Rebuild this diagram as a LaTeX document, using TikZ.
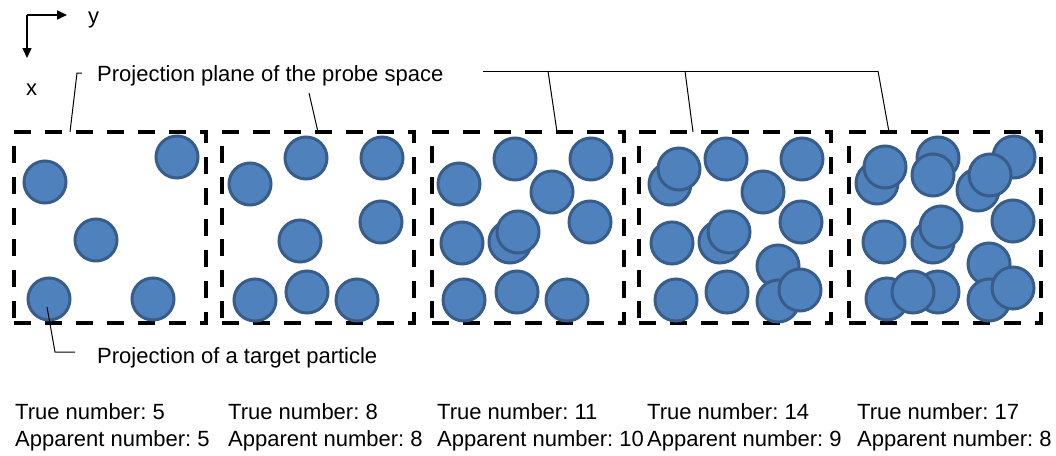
\documentclass[tikz,border=0pt]{standalone}
\usepackage{fontspec}
\setmainfont{Liberation Sans}
\usetikzlibrary{arrows.meta}
\definecolor{pfill}{HTML}{4F81BD}
\definecolor{pdraw}{HTML}{385D8A}
\frenchspacing
\begin{document}
\frenchspacing
\begin{tikzpicture}[x=1pt,y=-1pt,
  particle/.style={circle, minimum size=42pt, inner sep=0pt, outer sep=0pt, fill=pfill, draw=pdraw, line width=3pt},
  probebox/.style={draw=black, line width=4.5pt, dash pattern=on 17pt off 14pt, minimum width=192pt, minimum height=191pt, inner sep=0pt, outer sep=0pt},
  txt/.style={font=\fontsize{22pt}{26pt}\selectfont\frenchspacing, inner sep=0pt, anchor=base west},
  leader/.style={line width=1pt, draw=black},
  axis/.style={line width=1.5pt, -{Triangle[length=10pt,width=9pt]}}]
\useasboundingbox (0,0) rectangle (1056,455);

% axes
\coordinate (o) at (27,15);
\coordinate (ye) at (67,15);
\coordinate (xe) at (27,58);
\draw[axis] (o) -- (ye);
\draw[axis] (o) -- (xe);
\node[txt] (ylab) at (88,23) {y};
\node[txt] (xlab) at (26,95) {x};

% boxes
\node[probebox] (box1) at (110,227.5) {};
\node[probebox] (box2) at (318,227.5) {};
\node[probebox] (box3) at (528,227.5) {};
\node[probebox] (box4) at (735,227.5) {};
\node[probebox] (box5) at (945,227.5) {};

% box 1 particles
\node[particle] (b1a) at (177,157) {};
\node[particle] (b1b) at (45,182) {};
\node[particle] (b1c) at (96,240) {};
\node[particle] (b1d) at (49,299) {};
\node[particle] (b1e) at (153,299) {};

% box 2 particles
\node[particle] (b2a) at (250,184) {};
\node[particle] (b2b) at (306,158) {};
\node[particle] (b2c) at (382,158) {};
\node[particle] (b2d) at (381,222) {};
\node[particle] (b2e) at (300,241) {};
\node[particle] (b2f) at (255,300) {};
\node[particle] (b2g) at (307,292) {};
\node[particle] (b2h) at (357,300) {};

% box 3 particles
\node[particle] (b3a) at (459,184) {};
\node[particle] (b3b) at (515,159) {};
\node[particle] (b3c) at (591,159) {};
\node[particle] (b3d) at (552,192) {};
\node[particle] (b3e) at (590,222) {};
\node[particle] (b3f) at (462,243) {};
\node[particle] (b3g) at (510,242) {};
\node[particle] (b3h) at (518,232) {};
\node[particle] (b3i) at (464,300) {};
\node[particle] (b3j) at (517,292) {};
\node[particle] (b3k) at (567,300) {};

% box 4 particles
\node[particle] (b4a) at (670,184) {};
\node[particle] (b4b) at (679,169) {};
\node[particle] (b4c) at (726,159) {};
\node[particle] (b4d) at (802,159) {};
\node[particle] (b4e) at (763,192) {};
\node[particle] (b4f) at (801,222) {};
\node[particle] (b4g) at (672,243) {};
\node[particle] (b4h) at (720,242) {};
\node[particle] (b4i) at (729,232) {};
\node[particle] (b4j) at (778,266) {};
\node[particle] (b4k) at (676,300) {};
\node[particle] (b4l) at (727,292) {};
\node[particle] (b4m) at (778,301) {};
\node[particle] (b4n) at (800,290) {};

% box 5 particles
\node[particle] (b5a) at (877,183) {};
\node[particle] (b5b) at (885,167) {};
\node[particle] (b5c) at (938,158) {};
\node[particle] (b5d) at (933,175) {};
\node[particle] (b5e) at (1014,157) {};
\node[particle] (b5f) at (978,190) {};
\node[particle] (b5g) at (990,175) {};
\node[particle] (b5h) at (1013,221) {};
\node[particle] (b5i) at (884,242) {};
\node[particle] (b5j) at (933,242) {};
\node[particle] (b5k) at (941,227) {};
\node[particle] (b5l) at (989,264) {};
\node[particle] (b5m) at (887,299) {};
\node[particle] (b5n) at (938,292) {};
\node[particle] (b5o) at (913,292) {};
\node[particle] (b5p) at (989,300) {};
\node[particle] (b5q) at (1013,288) {};

% top label and leaders
\node[txt] (plabel) at (97,81) {Projection plane of the probe space};
\coordinate (t1) at (82,73);
\coordinate (t1b) at (77,73);
\draw[leader] (t1) -- (t1b) -- ([xshift=-40pt]box1.north);
\coordinate (t2) at (309,93);
\draw[leader] (t2) -- (box2.north);
\coordinate (h0) at (483,71);
\coordinate (h1) at (548,71);
\coordinate (h2) at (685,71);
\coordinate (h3) at (878,71);
\draw[leader] (h0) -- (h3);
\draw[leader] (h1) -- ([xshift=29pt]box3.north);
\draw[leader] (h2) -- ([xshift=-42pt]box4.north);
\draw[leader] (h3) -- ([xshift=-56pt]box5.north);

% target particle label
\node[txt] (tlabel) at (97,363) {Projection of a target particle};
\coordinate (c1) at (55,352);
\coordinate (c2) at (75,352);
\draw[leader] ([xshift=-2pt,yshift=-8pt]b1d.center) -- (c1) -- (c2);

% counts
\node[txt] (tn1) at (15,419) {True number: 5};
\node[txt] (an1) at (15,446) {Apparent number: 5};
\node[txt] (tn2) at (228,419) {True number: 8};
\node[txt] (an2) at (228,446) {Apparent number: 8};
\node[txt] (tn3) at (437,419) {True number: 11};
\node[txt] (an3) at (437,446) {Apparent number: 10};
\node[txt] (tn4) at (647,419) {True number: 14};
\node[txt] (an4) at (647,446) {Apparent number: 9};
\node[txt] (tn5) at (857,419) {True number: 17};
\node[txt] (an5) at (857,446) {Apparent number: 8};
\end{tikzpicture}
\end{document}
